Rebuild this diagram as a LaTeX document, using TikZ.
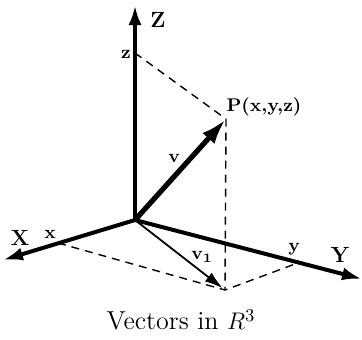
\documentclass[tikz,border=0pt]{standalone}
\usepackage{tikz}
\usetikzlibrary{arrows.meta}

\begin{document}
\begin{tikzpicture}[x=0.5pt, y=-0.5pt,
  >={Latex[length=10pt,width=6.5pt]},
  axis/.style={line width=2pt},
  vec/.style={line width=2.6pt, -{Latex[length=13pt,width=8pt]}},
  proj/.style={line width=0.7pt, dash pattern=on 4pt off 3pt},
  lb/.style={font=\bfseries\fontsize{9.2}{11}\selectfont, inner sep=1pt},
  ax/.style={font=\bfseries\fontsize{11}{13}\selectfont, inner sep=1pt}]

  \useasboundingbox (0,0) rectangle (362,339);

  % points
  \coordinate (o) at (135,220);
  \coordinate (zt) at (135,5);
  \coordinate (xt) at (3,260);
  \coordinate (yt) at (362,279);
  \coordinate (zm) at (135,53);
  \coordinate (xm) at (58,243);
  \coordinate (ym) at (295,264);
  \coordinate (p) at (226,119);
  \coordinate (q) at (225,290);

  % projections
  \draw[proj] (zm) -- (p) -- (q);
  \draw[proj] (xm) -- (q) -- (ym);

  % axes
  \draw[axis, ->] (o) -- (zt);
  \draw[axis, ->] (o) -- (xt);
  \draw[axis, ->] (o) -- (yt);

  % vectors
  \draw[vec] (o) -- (p);
  \draw[line width=0.9pt, -{Latex[length=9pt,width=5.5pt]}, shorten >=1.5pt] (o) -- (q);

  % labels
  \node[ax] (zl) at (158,20) {Z};
  \node[lb] (zml) at (126,54) {z};
  \node[lb] (pl) at (264,107) {P(x,y,z)};
  \node[lb] (vl) at (174,158) {v};
  \node[ax] (xl) at (20,238) {X};
  \node[lb] (xml) at (50,234) {x};
  \node[lb] (v1l) at (202,257) {v\textsubscript{1}};
  \node[lb] (yml) at (294,249) {y};
  \node[ax] (yl) at (340,255) {Y};
  \node[font=\fontsize{13}{15}\selectfont] (cap) at (181,320) {Vectors in $R^3$};
\end{tikzpicture}
\end{document}
